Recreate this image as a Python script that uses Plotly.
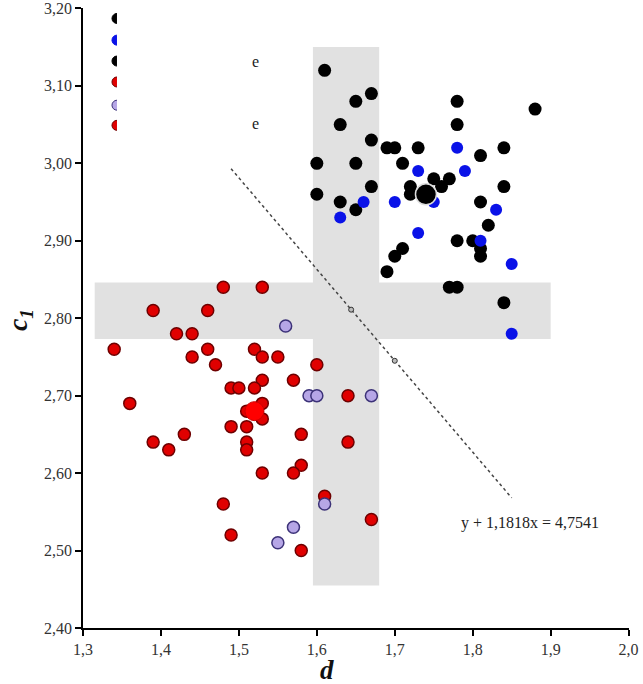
import plotly.graph_objects as go

# group 1 (upper right)
g1_black_x = [1.61, 1.67, 1.65, 1.78, 1.88, 1.63, 1.78, 1.67, 1.69, 1.70, 1.73, 1.84, 1.81,
              1.60, 1.65, 1.71, 1.75, 1.77, 1.76, 1.67, 1.72, 1.84, 1.60, 1.72, 1.63, 1.81,
              1.65, 1.82, 1.78, 1.80, 1.81, 1.81, 1.71, 1.70, 1.69, 1.77, 1.78, 1.84]
g1_black_y = [3.12, 3.09, 3.08, 3.08, 3.07, 3.05, 3.05, 3.03, 3.02, 3.02, 3.02, 3.02, 3.01,
              3.00, 3.00, 3.00, 2.98, 2.98, 2.97, 2.97, 2.97, 2.97, 2.96, 2.96, 2.95, 2.95,
              2.94, 2.92, 2.90, 2.90, 2.89, 2.88, 2.89, 2.88, 2.86, 2.84, 2.84, 2.82]
g1_blue_x = [1.78, 1.73, 1.79, 1.75, 1.66, 1.70, 1.63, 1.83, 1.73, 1.81, 1.85, 1.85]
g1_blue_y = [3.02, 2.99, 2.99, 2.95, 2.95, 2.95, 2.93, 2.94, 2.91, 2.90, 2.87, 2.78]

# group 2 (lower left)
g2_red_x = [1.48, 1.53, 1.39, 1.46, 1.42, 1.44, 1.34, 1.46, 1.52, 1.44, 1.53, 1.55, 1.47,
            1.60, 1.53, 1.57, 1.49, 1.50, 1.52, 1.64, 1.36, 1.53, 1.51, 1.53, 1.49, 1.51,
            1.43, 1.58, 1.39, 1.51, 1.64, 1.41, 1.51, 1.58, 1.53, 1.57, 1.61, 1.48, 1.67,
            1.49, 1.58]
g2_red_y = [2.84, 2.84, 2.81, 2.81, 2.78, 2.78, 2.76, 2.76, 2.76, 2.75, 2.75, 2.75, 2.74,
            2.74, 2.72, 2.72, 2.71, 2.71, 2.71, 2.70, 2.69, 2.69, 2.68, 2.67, 2.66, 2.66,
            2.65, 2.65, 2.64, 2.64, 2.64, 2.63, 2.63, 2.61, 2.60, 2.60, 2.57, 2.56, 2.54,
            2.52, 2.50]
g2_lav_x = [1.56, 1.59, 1.60, 1.67, 1.61, 1.57, 1.55]
g2_lav_y = [2.79, 2.70, 2.70, 2.70, 2.56, 2.53, 2.51]

# centroids
centroid_x = [1.74, 1.52]
centroid_y = [2.96, 2.68]

# discriminant line y + 1,1818x = 4,7541
line_x = [1.49, 1.85]
line_y = [2.993, 2.568]
line_marks_x = [1.644, 1.70]
line_marks_y = [2.811, 2.745]

# overlap bands
band_d = [1.595, 1.68]
band_d_c = [2.455, 3.15]
band_c = [2.773, 2.846]
band_c_d = [1.315, 1.90]

FONT = "Liberation Serif"

fig = go.Figure()

fig.add_trace(go.Scatter(
    x=line_x, y=line_y, mode="lines",
    line=dict(color="#444444", width=1.5, dash="dot"),
))
fig.add_trace(go.Scatter(
    x=line_marks_x, y=line_marks_y, mode="markers",
    marker=dict(size=5, color="#bbbbbb", line=dict(color="#333333", width=1)),
))

fig.add_trace(go.Scatter(
    x=g1_black_x, y=g1_black_y, mode="markers",
    marker=dict(size=13, color="#000000"),
))
fig.add_trace(go.Scatter(
    x=g1_blue_x, y=g1_blue_y, mode="markers",
    marker=dict(size=12, color="#0a12e8"),
))
fig.add_trace(go.Scatter(
    x=g2_red_x, y=g2_red_y, mode="markers",
    marker=dict(size=12, color="#e00000", line=dict(color="#6e0000", width=1.5)),
))
fig.add_trace(go.Scatter(
    x=g2_lav_x, y=g2_lav_y, mode="markers",
    marker=dict(size=12, color="#b6a6e6", line=dict(color="#3c3278", width=1.5)),
))
fig.add_trace(go.Scatter(
    x=centroid_x[:1], y=centroid_y[:1], mode="markers",
    marker=dict(size=21, color="#000000", line=dict(color="#dddddd", width=1.5)),
))
fig.add_trace(go.Scatter(
    x=centroid_x[1:], y=centroid_y[1:], mode="markers",
    marker=dict(size=19, color="#ff0000", line=dict(color="#cc0000", width=1)),
))

# remains of the legend: markers half hidden behind a white box
fig.add_trace(go.Scatter(
    x=[1.3436] * 6,
    y=[3.187, 3.159, 3.132, 3.105, 3.075, 3.049],
    mode="markers",
    marker=dict(
        size=10,
        color=["#000000", "#0a12e8", "#000000", "#e00000", "#b6a6e6", "#e00000"],
        line=dict(color=["#000000", "#0a12e8", "#000000", "#6e0000", "#3c3278", "#6e0000"],
                  width=1),
    ),
))

fig.add_shape(type="rect", x0=band_d[0], x1=band_d[1], y0=band_d_c[0], y1=band_d_c[1],
              fillcolor="#e1e1e1", line_width=0, layer="below")
fig.add_shape(type="rect", x0=band_c_d[0], x1=band_c_d[1], y0=band_c[0], y1=band_c[1],
              fillcolor="#e1e1e1", line_width=0, layer="below")
fig.add_shape(type="rect", x0=1.3436, x1=1.533, y0=3.03, y1=3.25,
              fillcolor="white", line_width=0, layer="above")

for yy in [3.132, 3.052]:
    fig.add_annotation(x=1.521, y=yy, text="e", showarrow=False,
                       font=dict(family=FONT, size=16, color="#222222"))

fig.add_annotation(x=1.873, y=2.535, text="y + 1,1818x = 4,7541", showarrow=False,
                   font=dict(family=FONT, size=16, color="#222222"))

fig.add_annotation(x=0.447, y=-0.04, xref="paper", yref="paper", yanchor="top",
                   text="<b><i>d</i></b>", showarrow=False,
                   font=dict(family=FONT, size=27, color="#111111"))
fig.add_annotation(x=-0.115, y=0.497, xref="paper", yref="paper",
                   xanchor="center", yanchor="middle",
                   text="<b><i>c<sub>1</sub></i></b>", showarrow=False, textangle=-90,
                   font=dict(family=FONT, size=28, color="#111111"))

axis_style = dict(
    showgrid=False, zeroline=False, automargin=False,
    showline=True, linecolor="#000000", linewidth=1.5,
    ticks="outside", ticklen=6, tickcolor="#000000", tickwidth=1.5,
    ticklabeloverflow="allow",
    tickfont=dict(family=FONT, size=16, color="#333333"),
)

fig.update_layout(
    width=643, height=684,
    margin=dict(l=83, r=14, t=8, b=56),
    plot_bgcolor="white", paper_bgcolor="white",
    showlegend=False,
    separators=", ",
    xaxis=dict(range=[1.3, 2.0005], tickvals=[1.3, 1.4, 1.5, 1.6, 1.7, 1.8, 1.9, 2.0],
               tickformat=".1f", **axis_style),
    yaxis=dict(range=[2.4, 3.2005], tickvals=[2.4, 2.5, 2.6, 2.7, 2.8, 2.9, 3.0, 3.1, 3.2],
               tickformat=".2f", **axis_style),
)

fig.write_html("out.html", config={"displayModeBar": False},
               post_script="document.body.style.margin='0';")
